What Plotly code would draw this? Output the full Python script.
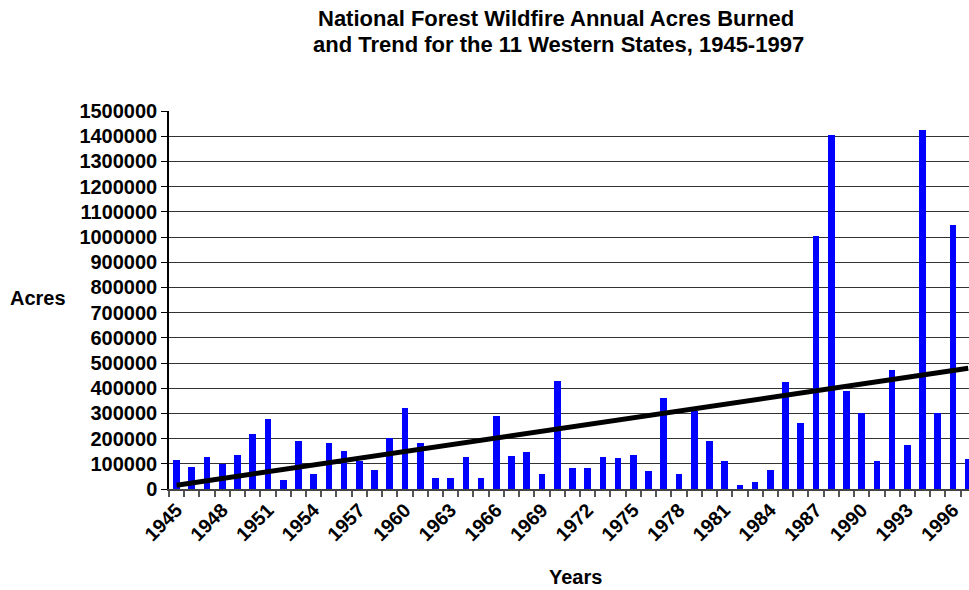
import plotly.graph_objects as go

years = list(range(1945, 1998))
acres = [
    115000, 86000, 127000, 100000, 135000, 218000, 278000, 36000, 190000, 59000,
    182000, 151000, 111000, 75000, 202000, 321000, 182000, 44000, 44000, 127000,
    44000, 290000, 131000, 147000, 59000, 428000, 83000, 83000, 127000, 123000,
    135000, 71000, 361000, 59000, 311000, 190000, 111000, 16000, 28000, 75000,
    425000, 262000, 1005000, 1403000, 389000, 302000, 111000, 472000, 175000, 1425000,
    300000, 1048000, 119000,
]
trend_years = [1945, 1997]
trend_acres = [15000, 479000]

tick_years = list(range(1945, 1998, 3))
tick_labels = [str(y) for y in tick_years]
y_ticks = list(range(0, 1500001, 100000))
y_labels = [str(v) for v in y_ticks]

FONT = "Arial, Liberation Sans, sans-serif"

W, H = 969, 590
L, T, B = 169, 111, 101
PW, PH = W - L, H - T - B


def px(xw):
    return (xw - L) / PW


def py(yw):
    return (H - B - yw) / PH


fig = go.Figure()
fig.add_trace(go.Bar(x=years, y=acres, width=0.44, marker=dict(color="#0000FF", line=dict(width=0)),
                     showlegend=False))
fig.add_trace(go.Scatter(x=trend_years, y=trend_acres, mode="lines",
                         line=dict(color="black", width=5), showlegend=False))

fig.update_layout(
    width=W, height=H,
    margin=dict(l=L, r=0, t=T, b=B, pad=0),
    paper_bgcolor="white", plot_bgcolor="white",
    font=dict(family=FONT, size=15, color="black"),
    bargap=0,
    xaxis=dict(
        range=[1944.5, 1997.05], tickmode="array", tickvals=tick_years, ticktext=tick_labels,
        tickangle=-45, ticks="", showgrid=False, zeroline=False,
        showline=True, linecolor="#444444", linewidth=2,
        tickfont=dict(family=FONT, size=19.5, color="black", weight="bold"),
        minor=dict(ticks="outside", tick0=1944.5, dtick=1, ticklen=6, tickcolor="#555555",
                   tickwidth=2, showgrid=False),
    ),
    yaxis=dict(
        range=[0, 1500000], tickmode="array", tickvals=y_ticks, ticktext=y_labels,
        ticks="outside", ticklen=6, tickcolor="black", tickwidth=1,
        showgrid=True, gridcolor="#333333", gridwidth=1, zeroline=False,
        showline=True, linecolor="black", linewidth=1.5,
        tickfont=dict(family=FONT, size=20, color="black", weight="bold"),
    ),
    annotations=[
        dict(text="<b>National Forest Wildfire Annual Acres Burned</b>", xref="paper", yref="paper",
             x=px(556), y=py(18), xanchor="center", yanchor="middle",
             showarrow=False, font=dict(family=FONT, size=22)),
        dict(text="<b>and Trend for the 11 Western States, 1945-1997</b>", xref="paper", yref="paper",
             x=px(558), y=py(45), xanchor="center", yanchor="middle",
             showarrow=False, font=dict(family=FONT, size=22)),
        dict(text="<b>Acres</b>", xref="paper", yref="paper",
             x=px(38), y=py(298), xanchor="center", yanchor="middle",
             showarrow=False, font=dict(family=FONT, size=20)),
        dict(text="<b>Years</b>", xref="paper", yref="paper",
             x=px(575), y=py(577), xanchor="center", yanchor="middle",
             showarrow=False, font=dict(family=FONT, size=20)),
    ],
)

fig.write_html("out.html", config={"displayModeBar": False},
               post_script="document.body.style.margin='0';document.body.style.overflow='hidden';")
